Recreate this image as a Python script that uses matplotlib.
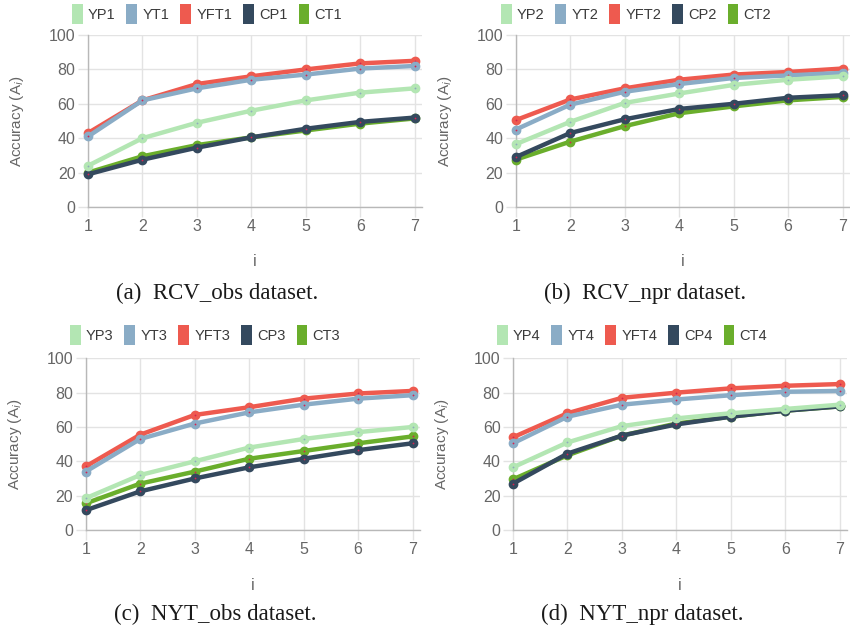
import numpy as np
import matplotlib.pyplot as plt
from matplotlib.patches import Patch

# iteration index shared by every panel
steps = [1, 2, 3, 4, 5, 6, 7]

# (a) RCV_obs
yp1 = [24, 40, 49, 56, 62, 66.5, 69]
yt1 = [41, 62, 69, 74, 77, 80.5, 82]
yft1 = [43, 62, 71.5, 76, 80, 83.5, 85]
cp1 = [19, 27.5, 34.5, 40.5, 45.5, 49.5, 52]
ct1 = [20, 29.5, 36, 40.5, 44.5, 48.5, 51.5]

# (b) RCV_npr
yp2 = [36.5, 49.5, 60.5, 66, 71, 74, 76]
yt2 = [45, 59.5, 67, 71.5, 75, 76.5, 78]
yft2 = [50.5, 62.5, 69, 74, 77, 78.5, 80.5]
cp2 = [29, 43, 51, 57, 60, 63.5, 65]
ct2 = [27.5, 38, 47, 54.5, 58.5, 62, 64]

# (c) NYT_obs
yp3 = [18.5, 32, 40, 48, 53, 57, 60]
yt3 = [34, 53, 62, 68.5, 73, 76.5, 78.5]
yft3 = [37, 55.5, 67, 71.5, 76.5, 79.5, 81]
cp3 = [11.5, 22.5, 30, 36.5, 41.5, 46.5, 50.5]
ct3 = [15.5, 27, 34, 41.5, 46, 50.5, 54.5]

# (d) NYT_npr
yp4 = [36.5, 51, 60.5, 65, 68, 70.5, 73]
yt4 = [50.5, 66, 73, 76, 78.5, 80.5, 81]
yft4 = [54, 68, 77, 80, 82.5, 84, 85]
cp4 = [27, 44.5, 55, 61.5, 66, 69.5, 72]
ct4 = [29.5, 43.5, 55, 62, 66, 69.5, 72]

series_names = ['YP', 'YT', 'YFT', 'CP', 'CT']
colors = ['#b3e6b3', '#8aacc6', '#ee5a4f', '#34495e', '#6aae2c']
dot_colors = ['#8fa9bd', '#d4234f', '#d4234f', '#d4234f', '#d4234f']
captions = ['(a)  RCV_obs dataset.', '(b)  RCV_npr dataset.',
            '(c)  NYT_obs dataset.', '(d)  NYT_npr dataset.']

panels = [[yp1, yt1, yft1, cp1, ct1],
          [yp2, yt2, yft2, cp2, ct2],
          [yp3, yt3, yft3, cp3, ct3],
          [yp4, yt4, yft4, cp4, ct4]]

W, H = 850, 630
# axes boxes in pixels: left, y of the 0 line, y of the 100 line
boxes = [(88, 207, 35), (515.7, 207, 35), (85.7, 530, 358.3), (513, 530, 358.3)]
legend_xy = [(207, 14), (636, 14), (205, 335), (632, 335)]
caption_xy = [(217, 293), (645, 293), (215, 614), (642, 614)]

sans = ['Liberation Sans', 'DejaVu Sans']
gray = '#666666'

fig = plt.figure(figsize=(8.5, 6.3), dpi=100)

for k in range(4):
    left, y0, y100 = boxes[k]
    ax = fig.add_axes([left / W, 1 - y0 / H, 334 / W, (y0 - y100) / H])
    n = len(series_names)
    for j in range(n):
        ax.plot(steps, panels[k][j], color=colors[j], lw=3.2, marker='o',
                ms=4.2, mew=2.8, mec=colors[j], mfc=dot_colors[j],
                solid_capstyle='round', clip_on=False, zorder=10 + n - j)

    ax.set_xlim(1, 7.13)
    ax.set_ylim(0, 100)
    ax.set_xticks(steps)
    ax.set_yticks([0, 20, 40, 60, 80, 100])
    ax.grid(color='#e3e3e3', lw=1)
    ax.set_axisbelow(True)
    for s in ['top', 'right']:
        ax.spines[s].set_visible(False)
    for s in ['left', 'bottom']:
        ax.spines[s].set_color('#b8b8b8')
        ax.spines[s].set_linewidth(1)
    ax.tick_params(length=7, width=1, color='#e3e3e3', pad=2,
                   labelsize=11.5, labelcolor=gray)
    for lab in ax.get_xticklabels() + ax.get_yticklabels():
        lab.set_family(sans)

    # axis titles
    ax.text(0.5, -55 / (y0 - y100), 'i', transform=ax.transAxes,
            ha='center', va='center', fontsize=11.5, color=gray, family=sans)
    ax.text(-71 / 334, 0.5, 'Accuracy (A$_i$)', transform=ax.transAxes,
            ha='center', va='center', rotation=90, fontsize=11,
            color=gray, family=sans)

    handles = [Patch(facecolor=colors[j], edgecolor='none',
                     label=series_names[j] + str(k + 1)) for j in range(n)]
    lx, ly = legend_xy[k]
    fig.legend(handles=handles, loc='center', bbox_to_anchor=(lx / W, 1 - ly / H),
               ncol=5, frameon=False, prop={'family': sans, 'size': 10.5},
               labelcolor='#3a3a3a', handlelength=0.75, handleheight=1.75,
               handletextpad=0.35, columnspacing=0.75, borderpad=0, borderaxespad=0)

    cx, cy = caption_xy[k]
    fig.text(cx / W, 1 - cy / H, captions[k], ha='center', va='center',
             fontsize=16.5, family=['Liberation Serif', 'DejaVu Serif'],
             color='#1a1a1a')

fig.savefig('out.png', dpi=100)
